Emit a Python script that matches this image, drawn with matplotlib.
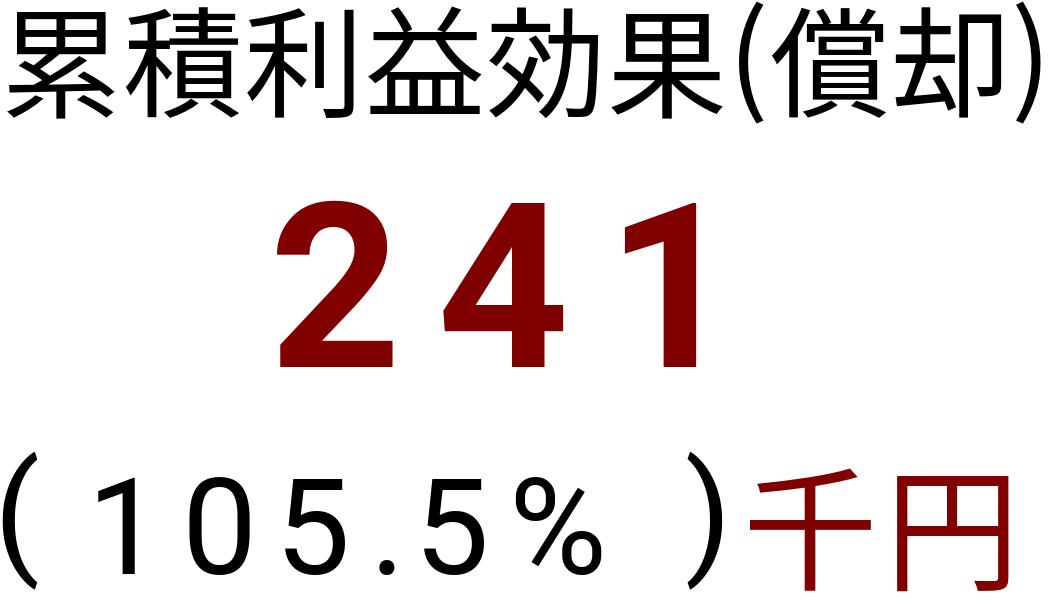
import matplotlib
matplotlib.use("Agg")
import matplotlib.pyplot as plt
from matplotlib.font_manager import FontProperties, findfont
from matplotlib.ft2font import FT2Font

# --- data ---
title = "累積利益効果(償却)"
total_value = 241        # 千円
ratio_pct = 105.5        # %
unit = "千円"

W, H, DPI = 1051, 606, 100
DARK_RED = "#800000"
JP = "Noto Sans CJK JP"
LATIN = "Roboto"

fig = plt.figure(figsize=(W / DPI, H / DPI), dpi=DPI)
fig.patch.set_facecolor("white")


def spaced_text(s, x0, baseline, size, family, color, weight="normal", spread=1.0, lift=None):
    # char by char, pen advances spread out to mimic the wide font of the original
    path = findfont(FontProperties(family=family, weight=weight))
    ft = FT2Font(path)
    ft.set_size(size, DPI)
    lift = lift or {}
    pen = 0.0
    for ch in s:
        y = baseline - lift.get(ch, 0)
        fig.text((x0 + pen * spread) / W, 1 - y / H, ch, ha="left", va="baseline",
                 fontproperties=FontProperties(fname=path, size=size), color=color)
        pen += ft.load_char(ord(ch)).linearHoriAdvance / 65536


# title (parens sit a bit higher in the original)
spaced_text(title, 1, 108, 86.4, JP, "black", spread=1.01, lift={"(": 9, ")": 9})

# big number
spaced_text(str(total_value), 269, 367, 166, LATIN, DARK_RED, weight="bold", spread=1.27)

# ratio line: ( 105.5% ) 千円
spaced_text("(", -7, 559, 96.5, LATIN, "black")
spaced_text(f"{ratio_pct:.1f}%", 87, 574, 96.5, LATIN, "black", spread=1.25)
spaced_text(")", 684, 559, 96.5, LATIN, "black")
spaced_text(unit, 743, 580, 97, JP, DARK_RED, spread=1.05)

fig.savefig("out.png", dpi=DPI, facecolor="white")
